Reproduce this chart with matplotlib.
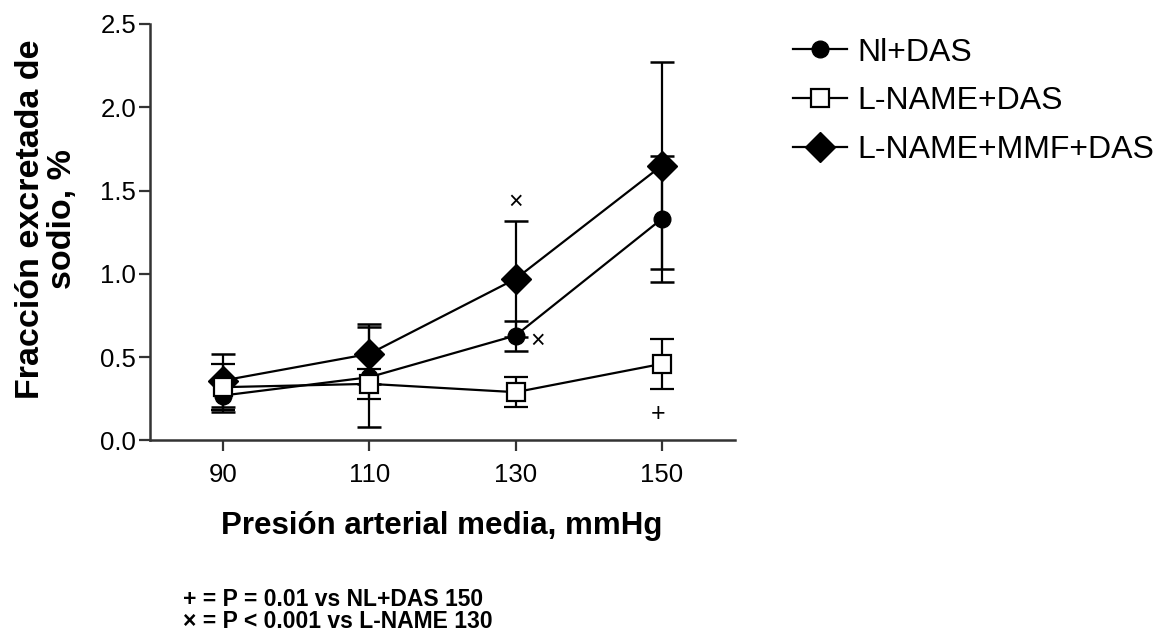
import matplotlib
matplotlib.use("Agg")
import matplotlib.pyplot as plt
from matplotlib.lines import Line2D

plt.rcParams['font.family'] = ['Liberation Sans', 'DejaVu Sans']

pressure = [90, 110, 130, 150]
xtick_labels = ["90", "110", "130", "150"]

nl_das = [0.27, 0.38, 0.63, 1.33]
nl_das_err = [0.10, 0.30, 0.09, 0.38]

lname_das = [0.32, 0.34, 0.29, 0.46]
lname_das_err = [0.14, 0.09, 0.09, 0.15]

lname_mmf_das = [0.36, 0.52, 0.97, 1.65]
lname_mmf_das_err = [0.16, 0.18, 0.35, 0.62]

series_labels = ["Nl+DAS", "L-NAME+DAS", "L-NAME+MMF+DAS"]

# significance marks: (x, y, symbol)
sig_marks = [(130, 1.43, "×"), (133, 0.60, "×"), (149.5, 0.16, "+")]

fig = plt.figure(figsize=(11.56, 6.36), dpi=100)
ax = fig.add_axes([0.1298, 0.3074, 0.506, 0.655])

common = dict(color='black', ecolor='black', elinewidth=1.6, capsize=8.5,
              capthick=1.8, linewidth=1.6, clip_on=False)
ax.errorbar(pressure, lname_mmf_das, yerr=lname_mmf_das_err, fmt='-D',
            markersize=15.5, mfc='black', mec='black', zorder=3, **common)
ax.errorbar(pressure, nl_das, yerr=nl_das_err, fmt='-o',
            markersize=12, mfc='black', mec='black', zorder=4, **common)
ax.errorbar(pressure, lname_das, yerr=lname_das_err, fmt='-s',
            markersize=12.5, mfc='white', mec='black', mew=1.6, zorder=5, **common)

for x, y, s in sig_marks:
    ax.text(x, y, s, ha='center', va='center', fontsize=18, color='black')

ax.set_xlim(80, 160)
ax.set_ylim(0, 2.5)
ax.set_xticks(pressure)
ax.set_xticklabels(xtick_labels)
ax.set_yticks([0.0, 0.5, 1.0, 1.5, 2.0, 2.5])
ax.set_yticklabels(["0.0", "0.5", "1.0", "1.5", "2.0", "2.5"])
ax.tick_params(labelsize=18.5, width=1.6, length=8, color='#333333')
ax.tick_params(axis='x', pad=8)
ax.tick_params(axis='y', pad=2)
for s in ['top', 'right']:
    ax.spines[s].set_visible(False)
for s in ['left', 'bottom']:
    ax.spines[s].set_linewidth(1.8)
    ax.spines[s].set_color('#333333')

ax.set_xlabel("Presión arterial media, mmHg", fontsize=22.5, fontweight='bold')
ax.xaxis.set_label_coords(0.498, -0.17)
ax.set_ylabel("Fracción excretada de\nsodio, %", fontsize=24.5, fontweight='bold',
              linespacing=1.05)
ax.yaxis.set_label_coords(-0.123, 0.532)

handles = [
    Line2D([], [], color='black', marker='o', markersize=12, mfc='black', lw=1.6),
    Line2D([], [], color='black', marker='s', markersize=12.5, mfc='white', mew=1.6, lw=1.6),
    Line2D([], [], color='black', marker='D', markersize=15.5, mfc='black', lw=1.6),
]
fig.legend(handles, series_labels, loc='upper left', bbox_to_anchor=(0.686, 0.941),
           frameon=False, fontsize=23, handlelength=1.7, handletextpad=0.3,
           labelspacing=0.59, borderpad=0, borderaxespad=0)

fig.text(0.158, 0.047, "+ = P = 0.01 vs NL+DAS 150", fontsize=16.5, fontweight='bold')
fig.text(0.158, 0.013, "× = P < 0.001 vs L-NAME 130", fontsize=16.5, fontweight='bold')

fig.savefig("out.png", dpi=100)
